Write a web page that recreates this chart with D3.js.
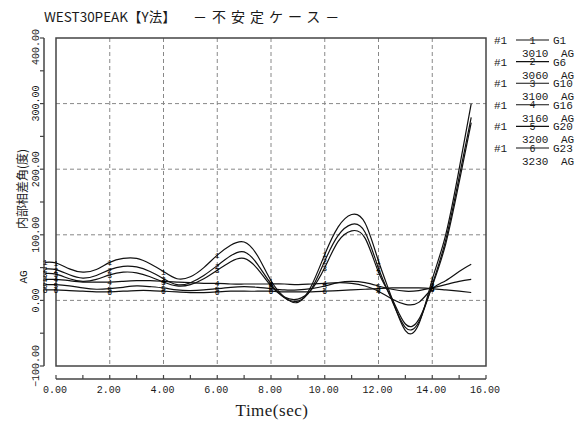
<!DOCTYPE html>
<html>
<head>
<meta charset="utf-8">
<script src="https://cdn.jsdelivr.net/npm/d3@7/dist/d3.min.js"></script>
<style>
  body { margin: 0; background: #fff; }
  svg { display: block; }
</style>
</head>
<body>
<svg id="chart" width="575" height="425"></svg>
<script>
// Sample times (s) shared by every trace
const times = [-0.4, 0, 0.5, 1, 1.5, 2, 2.5, 3, 3.5, 4, 4.5, 5, 5.5, 6, 6.5, 7, 7.5, 8,
               8.5, 9, 9.5, 10, 10.5, 11, 11.5, 12, 12.5, 13, 13.5, 14, 14.5, 15, 15.45];

// Internal phase angle (deg) per generator
const g1  = [58, 57, 48, 43, 47, 58, 64, 64, 56, 44, 33, 36, 50, 69, 84, 89, 68, 30,
             5, -3, 22, 70, 112, 131, 118, 60, 3, -46, -36, 32, 100, 200, 300];
const g6  = [48, 47, 39, 34, 38, 47, 52, 51, 44, 33, 24, 27, 38, 53, 68, 74, 55, 25,
             4, -1, 17, 60, 99, 116, 104, 49, 0, -41, -33, 24, 92, 188, 279];
const g10 = [41, 40, 33, 29, 32, 39, 43, 42, 36, 28, 22, 24, 33, 46, 59, 64, 48, 22,
             5, 2, 16, 50, 90, 106, 95, 43, 3, -36, -29, 22, 86, 180, 271];
const g16 = [32, 32, 30, 28, 28, 28, 29, 30, 30, 29, 28, 27, 26, 26, 25, 25, 25, 25,
             25, 24, 25, 26, 27, 26, 22, 14, 2, -6, -3, 18, 30, 44, 55];
const g20 = [24, 24, 22, 19, 17, 18, 20, 22, 21, 19, 16, 15, 16, 18, 20, 21, 20, 18,
             16, 16, 18, 22, 27, 29, 27, 22, 17, 14, 15, 19, 24, 29, 32];
const g23 = [16, 16, 15, 14, 13, 13, 14, 15, 15, 14, 13, 12, 12, 13, 14, 14, 14, 14,
             13, 13, 13, 14, 15, 16, 17, 18, 19, 19, 19, 18, 16, 14, 12];

const seriesValues = [g1, g6, g10, g16, g20, g23];
const seriesNames  = ["G1", "G6", "G10", "G16", "G20", "G23"];
const seriesNodes  = ["3010", "3060", "3100", "3160", "3200", "3230"];
const seriesCase   = "#1";
const seriesUnit   = "AG";

// Times at which each trace carries its number marker
const markerTimes = [-0.4, 0, 2, 4, 6, 8, 10, 12, 14];

// Axis ticks
const xTickValues = [0, 2, 4, 6, 8, 10, 12, 14, 16];
const xMinorTicks = d3.range(0, 16.5, 1);
const yTickValues = [-100, 0, 100, 200, 300, 400];
const yMinorTicks = d3.range(-100, 401, 50);
const xGrid = [2, 4, 6, 8, 10, 12, 14];
const yGrid = [0, 100, 200, 300];

const titleMain = "WEST30PEAK【Y法】";
const titleSub  = "－不安定ケース－";
const yTitle    = "内部相差角(度)";
const yUnit     = "AG";
const xTitle    = "Time(sec)";

const svg = d3.select("#chart");
const ink = "#1a1a1a";
const mono = "'Liberation Mono', 'DejaVu Sans Mono', monospace";
const jp = "'Noto Sans CJK JP', sans-serif";

const box = { left: 56, right: 486, top: 38, bottom: 366 };
const x = d3.scaleLinear().domain([0, 16]).range([box.left, box.right]);
const y = d3.scaleLinear().domain([-100, 400]).range([box.bottom, box.top]);

// Grid
svg.append("g").selectAll("line").data(xGrid).join("line")
  .attr("x1", d => x(d)).attr("x2", d => x(d))
  .attr("y1", box.top).attr("y2", box.bottom)
  .attr("stroke", "#888").attr("stroke-width", 1).attr("stroke-dasharray", "4,3");
svg.append("g").selectAll("line").data(yGrid).join("line")
  .attr("x1", box.left).attr("x2", box.right)
  .attr("y1", d => y(d)).attr("y2", d => y(d))
  .attr("stroke", "#888").attr("stroke-width", 1).attr("stroke-dasharray", "4,3");

// Plot frame
svg.append("rect")
  .attr("x", box.left).attr("y", box.top)
  .attr("width", box.right - box.left).attr("height", box.bottom - box.top)
  .attr("fill", "none").attr("stroke", "#444").attr("stroke-width", 1.5);

// Detached left axis
const yAxisX = 44;
svg.append("line").attr("x1", yAxisX).attr("x2", yAxisX)
  .attr("y1", y(400)).attr("y2", y(-100)).attr("stroke", "#444").attr("stroke-width", 1.5);
svg.append("g").selectAll("line").data(yMinorTicks).join("line")
  .attr("x1", yAxisX - 4).attr("x2", yAxisX)
  .attr("y1", d => y(d)).attr("y2", d => y(d))
  .attr("stroke", "#444").attr("stroke-width", 1.2);
svg.append("g").selectAll("text").data(yTickValues).join("text")
  .attr("transform", d => {
    const cy = d === 400 ? y(d) + 9 : y(d);
    return `translate(39,${cy}) rotate(-90)`;
  })
  .attr("text-anchor", "middle")
  .attr("font-family", mono).attr("font-size", 10).attr("fill", ink)
  .text(d => d3.format(".2f")(d));

// Detached bottom axis
const xAxisY = 379;
svg.append("line").attr("x1", x(0)).attr("x2", x(16))
  .attr("y1", xAxisY).attr("y2", xAxisY).attr("stroke", "#444").attr("stroke-width", 1.5);
svg.append("g").selectAll("line").data(xMinorTicks).join("line")
  .attr("x1", d => x(d)).attr("x2", d => x(d))
  .attr("y1", xAxisY - 4).attr("y2", xAxisY)
  .attr("stroke", "#444").attr("stroke-width", 1.2);
svg.append("g").selectAll("text").data(xTickValues).join("text")
  .attr("x", d => x(d) - 1).attr("y", 393)
  .attr("text-anchor", "middle")
  .attr("font-family", mono).attr("font-size", 10).attr("fill", ink)
  .text(d => d3.format(".2f")(d));

// Traces
const line = d3.line()
  .x((d, i) => x(times[i]))
  .y(d => y(d))
  .curve(d3.curveNatural);

svg.append("g").selectAll("path").data(seriesValues).join("path")
  .attr("d", d => line(d))
  .attr("fill", "none").attr("stroke", "#111").attr("stroke-width", 1.2);

// Number markers on each trace (own layer, greyscale text)
const markerData = [];
seriesValues.forEach((vals, s) => {
  markerTimes.forEach(t => {
    const i = times.indexOf(t);
    markerData.push({ t, v: vals[i], n: s + 1 });
  });
});
svg.append("g").attr("opacity", 0.999)
  .selectAll("text").data(markerData).join("text")
  .attr("x", d => x(d.t)).attr("y", d => y(d.v) + 3)
  .attr("text-anchor", "middle")
  .attr("font-family", mono).attr("font-size", 8).attr("fill", "#000")
  .text(d => d.n);

// Legend
const legend = svg.append("g");
seriesNames.forEach((name, i) => {
  const ry = 44 + i * 21.6;
  const g = legend.append("g").attr("transform", `translate(0,${ry})`);
  g.append("text").attr("x", 494).attr("y", 0)
    .attr("font-family", mono).attr("font-size", 11).attr("fill", ink).text(seriesCase);
  g.append("line").attr("x1", 516).attr("x2", 549).attr("y1", -4).attr("y2", -4)
    .attr("stroke", "#111").attr("stroke-width", 1.1);
  g.append("text").attr("x", 532.5).attr("y", -0.5).attr("text-anchor", "middle")
    .attr("font-family", mono).attr("font-size", 10).attr("fill", ink).text(i + 1);
  g.append("text").attr("x", 553).attr("y", 0)
    .attr("font-family", mono).attr("font-size", 11).attr("fill", ink).text(name);
  g.append("text").attr("x", 522).attr("y", 13)
    .attr("font-family", mono).attr("font-size", 11).attr("fill", ink).text(seriesNodes[i]);
  g.append("text").attr("x", 561).attr("y", 13)
    .attr("font-family", mono).attr("font-size", 11).attr("fill", ink).text(seriesUnit);
});

// Titles
svg.append("text").attr("x", 44).attr("y", 22)
  .attr("font-family", jp).attr("font-size", 13.5).attr("fill", ink)
  .text(titleMain);
svg.append("text").attr("x", 193).attr("y", 22)
  .attr("font-family", jp).attr("font-size", 14).attr("letter-spacing", 5).attr("fill", ink)
  .text(titleSub);

svg.append("text").attr("transform", "translate(27,189) rotate(-90)")
  .attr("text-anchor", "middle")
  .attr("font-family", jp).attr("font-size", 12).attr("fill", ink)
  .text(yTitle);
svg.append("text").attr("transform", "translate(27,277) rotate(-90)")
  .attr("text-anchor", "middle")
  .attr("font-family", mono).attr("font-size", 11).attr("fill", ink)
  .text(yUnit);

svg.append("text").attr("x", 272).attr("y", 416)
  .attr("text-anchor", "middle")
  .attr("font-family", "'Liberation Serif', 'DejaVu Serif', serif").attr("font-size", 17)
  .attr("letter-spacing", 0.5).attr("fill", ink)
  .text(xTitle);
</script>
</body>
</html>
